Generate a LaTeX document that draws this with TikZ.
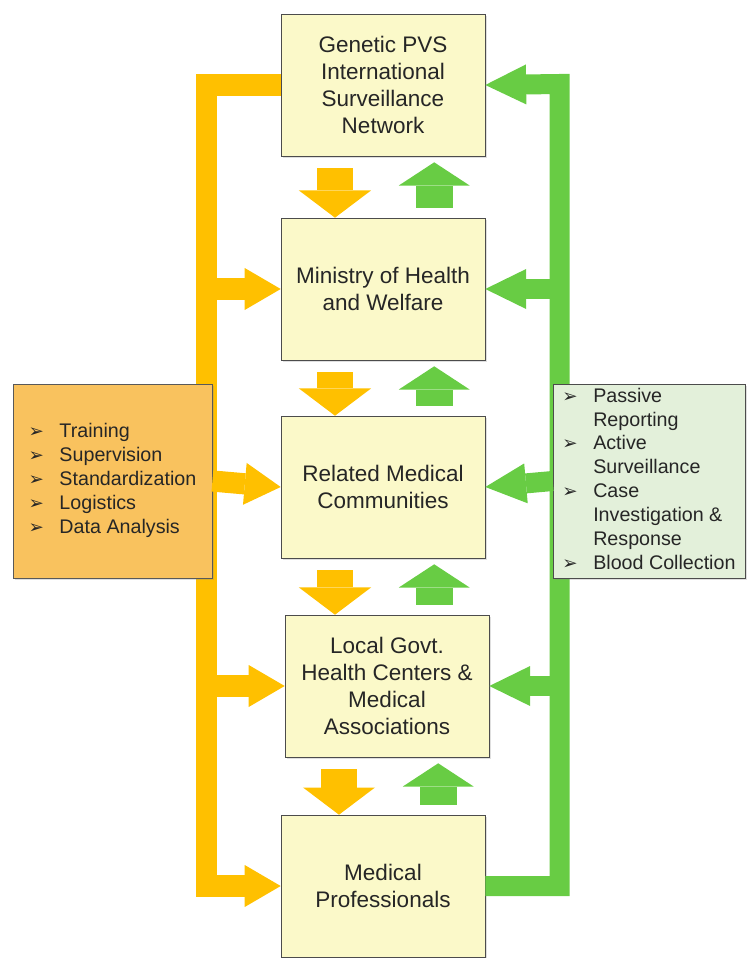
\documentclass[tikz,border=0pt]{standalone}
\usepackage{fontspec}
\setmainfont{Liberation Sans}
\newfontfamily\symfont{DejaVu Sans}
\usetikzlibrary{arrows.meta,positioning,shadows}
\definecolor{barorange}{HTML}{FFC000}
\definecolor{bargreen}{HTML}{68CC44}
\definecolor{boxyellow}{HTML}{FBF9C9}
\definecolor{leftfill}{HTML}{F9C25E}
\definecolor{rightfill}{HTML}{E3F0DA}
\newcommand{\bul}{{\symfont\fontsize{13}{13}\selectfont ➢}}

\begin{document}
\begin{tikzpicture}[x=0.025cm,y=-0.025cm,
  lvl/.style={draw=black!70,fill=boxyellow,minimum width=5.1cm,minimum height=3.55cm,align=center,text=black!85,font=\fontsize{16}{19}\selectfont,drop shadow={opacity=0.25,shadow xshift=1.5pt,shadow yshift=-1.5pt}},
  side/.style={lvl,minimum height=4.85cm,inner sep=1pt,font=\fontsize{14}{17}\selectfont},
  obar/.style={draw=barorange,line width=0.53cm},
  gbar/.style={draw=bargreen,line width=0.5cm},
  oarr/.style={obar,-{Triangle[line width=0pt,length=0.9cm,width=1.05cm]}},
  garr/.style={gbar,-{Triangle[line width=0pt,length=1.02cm,width=1.0cm]}},
  odown/.style={draw=barorange,line width=0.9cm,-{Triangle[line width=0pt,length=0.68cm,width=1.8cm]}},
  gup/.style={draw=bargreen,line width=0.92cm,-{Triangle[line width=0pt,length=0.58cm,width=1.77cm]}}]
\useasboundingbox (0,0) rectangle (747,958);
% levels of the network
\node[lvl] (net) at (383,85) {Genetic PVS\\International\\Surveillance\\Network};
\node[lvl] (mohw) at (383,289) {Ministry of Health\\and Welfare};
\node[lvl] (comm) at (383,487) {Related Medical\\Communities};
\node[lvl] (local) at (387,686) {Local Govt.\\Health Centers \&\\Medical\\Associations};
\node[lvl] (prof) at (383,886) {Medical\\Professionals};
% trunks
\coordinate (otrunk) at (206.5,886);
\coordinate (gtrunk) at (559.5,84);
\draw[oarr] (net.west) -| (otrunk) -- (prof.west);
\draw[garr] (prof.east) -| (gtrunk) -- (net.east);
% side boxes
\node[side,fill=leftfill,draw=black!65,minimum width=4.98cm] (ops) at (112.5,481) {%
  \begin{tabular}{@{}l@{\hspace{11pt}}l@{}}
  \bul & Training\\
  \bul & Supervision\\
  \bul & Standardization\\
  \bul & Logistics\\
  \bul & Data Analysis
  \end{tabular}};
\node[side,fill=rightfill,minimum width=4.8cm] (surv) at (649,481) {%
  \begin{tabular}{@{}l@{\hspace{11pt}}l@{}}
  \bul & Passive\\
       & Reporting\\
  \bul & Active\\
       & Surveillance\\
  \bul & Case\\
       & Investigation \&\\
       & Response\\
  \bul & Blood Collection
  \end{tabular}};
% branches
\draw[oarr] (otrunk |- mohw.west) -- (mohw.west);
\draw[oarr] (ops.east) -- (comm.west);
\draw[oarr] (otrunk |- local.west) -- (local.west);
\draw[garr] (gtrunk |- mohw.east) -- (mohw.east);
\draw[garr] (surv.west) -- (comm.east);
\draw[garr] (gtrunk |- local.east) -- (local.east);
% between levels
\foreach \a/\b in {net/mohw,mohw/comm,comm/local,local/prof}{
  \path ([xshift=-1.2cm]\a.south) coordinate (dx) ([xshift=1.28cm]\a.south) coordinate (ux);
  \path (dx |- \b.north) coordinate (db) (ux |- \b.north) coordinate (ub);
  \draw[odown] ([yshift=-0.3cm]dx) -- (db);
  \draw[gup] ([yshift=0.25cm]ub) -- ([yshift=-0.15cm]ux);
}
\end{tikzpicture}
\end{document}
